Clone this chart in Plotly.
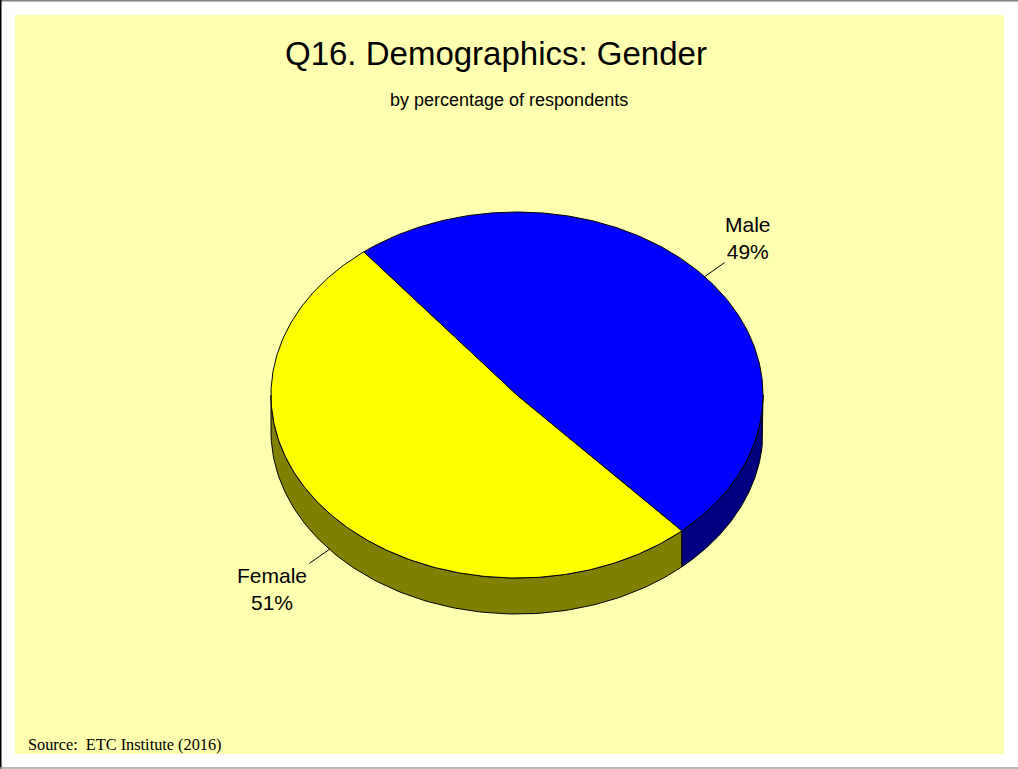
import numpy as np
import plotly.graph_objects as go

# Survey results
categories = ["Female", "Male"]
percentages = [51, 49]

top_colors = {"Female": "#FFFF00", "Male": "#0000FF"}
side_colors = {"Female": "#808000", "Male": "#000080"}

W, H = 1018, 769
# pie geometry in page pixels
cx, cy = 517, 395
rx, ry = 246, 183
depth = 36
start_deg = 128.5  # where the first slice begins (counter-clockwise)


def top_xy(t_deg):
    t = np.radians(t_deg)
    return cx + rx * np.cos(t), cy - ry * np.sin(t)


fig = go.Figure()

# slice angle spans
fracs = np.array(percentages, dtype=float) / sum(percentages)
spans = []
a = start_deg
for f in fracs:
    spans.append((a, a + f * 360.0))
    a += f * 360.0

# side walls (front half of the ellipse only)
for name, (a0, a1) in zip(categories, spans):
    lo, hi = a0, a1
    # visible front band is 180..360 (mod 360)
    segs = []
    for k in (-360, 0, 360):
        s, e = max(lo, 180 + k), min(hi, 360 + k)
        if e > s:
            segs.append((s, e))
    for s, e in segs:
        ts = np.linspace(s, e, 120)
        xt, yt = top_xy(ts)
        xs = np.concatenate([xt, xt[::-1], xt[:1]])
        ys = np.concatenate([yt, yt[::-1] + depth, yt[:1]])
        fig.add_trace(go.Scatter(
            x=xs, y=ys, mode="lines", fill="toself",
            fillcolor=side_colors[name],
            line=dict(color="black", width=1),
            hoverinfo="skip", showlegend=False))

# top faces
for name, (a0, a1) in zip(categories, spans):
    ts = np.linspace(a0, a1, 240)
    xt, yt = top_xy(ts)
    xs = np.concatenate([[cx], xt, [cx]])
    ys = np.concatenate([[cy], yt, [cy]])
    fig.add_trace(go.Scatter(
        x=xs, y=ys, mode="lines", fill="toself",
        fillcolor=top_colors[name],
        line=dict(color="black", width=1),
        hoverinfo="skip", showlegend=False))

# labels with leader lines
label_offsets = {"Male": (20, -14, 43, -39), "Female": (-20, 14, -57, 40)}
for name, pct, (a0, a1) in zip(categories, percentages, spans):
    mid = (a0 + a1) / 2
    px, py = top_xy(mid)
    if np.sin(np.radians(mid)) < 0:
        py += depth
    dx, dy, lx, ly = label_offsets[name]
    fig.add_trace(go.Scatter(
        x=[px, px + dx], y=[py, py + dy], mode="lines",
        line=dict(color="black", width=1),
        hoverinfo="skip", showlegend=False))
    fig.add_annotation(
        x=px + lx, y=py + ly, text=f"{name}<br>{pct}%", showarrow=False,
        font=dict(family="Liberation Sans, Arial", size=21, color="black"),
        align="center", xanchor="center", yanchor="middle")

fig.add_annotation(x=496, y=53, text="Q16. Demographics: Gender", showarrow=False,
                   font=dict(family="Liberation Sans, Arial", size=33, color="black"),
                   xanchor="center", yanchor="middle")
fig.add_annotation(x=509, y=100, text="by percentage of respondents", showarrow=False,
                   font=dict(family="Liberation Sans, Arial", size=18, color="black"),
                   xanchor="center", yanchor="middle")
fig.add_annotation(x=26, y=744, text="Source:  ETC Institute (2016)", showarrow=False,
                   font=dict(family="Liberation Serif, Times New Roman", size=16.3, color="black"),
                   xanchor="left", yanchor="middle")

shapes = [
    dict(type="rect", x0=15, x1=1004, y0=15, y1=754, fillcolor="#FFFFB0",
         line=dict(width=0), layer="below"),
    dict(type="line", x0=0, x1=W, y0=0.5, y1=0.5, line=dict(color="#808080", width=2)),
    dict(type="line", x0=0.5, x1=0.5, y0=0, y1=H, line=dict(color="black", width=2)),
    dict(type="line", x0=0, x1=W, y0=768, y1=768, line=dict(color="#A0A0A0", width=1.5)),
]

fig.update_layout(
    width=W, height=H,
    margin=dict(l=0, r=0, t=0, b=0),
    paper_bgcolor="white", plot_bgcolor="rgba(0,0,0,0)",
    xaxis=dict(range=[0, W], visible=False, fixedrange=True),
    yaxis=dict(range=[H, 0], visible=False, fixedrange=True),
    shapes=shapes,
    showlegend=False,
)

fig.write_html("out.html", config={"displayModeBar": False})
